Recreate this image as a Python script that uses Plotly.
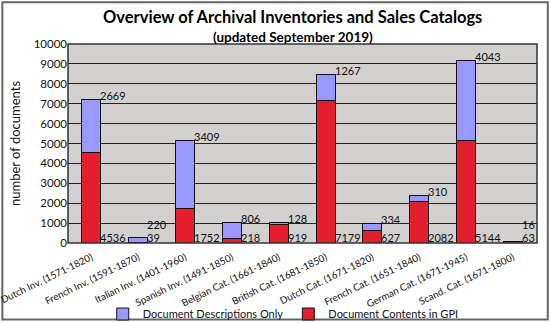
import plotly.graph_objects as go

categories = ["Dutch Inv. (1571-1820)", "French Inv. (1591-1870)", "Italian Inv. (1401-1960)",
              "Spanish Inv. (1491-1850)", "Belgian Cat. (1661-1840)", "British Cat. (1681-1850)",
              "Dutch Cat. (1671-1820)", "French Cat. (1651-1840)", "German Cat. (1671-1945)",
              "Scand. Cat. (1671-1800)"]
contents_gpi = [4536, 39, 1752, 218, 919, 7179, 627, 2082, 5144, 63]
descriptions_only = [2669, 220, 3409, 806, 128, 1267, 334, 310, 4043, 16]
y_ticks = [0, 1000, 2000, 3000, 4000, 5000, 6000, 7000, 8000, 9000, 10000]
y_tick_labels = [str(v) for v in y_ticks]

FONT = "Lato"
RED = "#E31E2D"
BLUE = "#9999FF"

fig = go.Figure()
fig.add_trace(go.Bar(name="Document Contents in GPI", x=categories, y=contents_gpi,
                     marker=dict(color=RED, line=dict(color="#111111", width=1))))
fig.add_trace(go.Bar(name="Document Descriptions Only", x=categories, y=descriptions_only,
                     marker=dict(color=BLUE, line=dict(color="#111111", width=1))))

annotations = []
for c, r, b in zip(categories, contents_gpi, descriptions_only):
    total = r + b
    annotations.append(dict(x=c, y=0, text=str(r), showarrow=False, xanchor="left",
                            yanchor="middle", xshift=7, yshift=6,
                            font=dict(family=FONT, size=11, color="#111")))
    annotations.append(dict(x=c, y=max(total, 750), text=str(b), showarrow=False, xanchor="left",
                            yanchor="middle", xshift=7, yshift=4,
                            font=dict(family=FONT, size=11, color="#111")))

annotations.append(dict(x=0.479, y=1.0, xref="paper", yref="paper", xanchor="center", yanchor="middle",
                        text="<b>Overview of Archival Inventories and Sales Catalogs</b>",
                        showarrow=False, yshift=27,
                        font=dict(family=FONT, size=16.5, color="#000")))
annotations.append(dict(x=0.479, y=1.0, xref="paper", yref="paper", xanchor="center", yanchor="middle",
                        text="<b>(updated September 2019)</b>",
                        showarrow=False, yshift=7,
                        font=dict(family=FONT, size=13.5, color="#000")))

fig.update_layout(
    barmode="stack",
    bargap=0.595,
    width=550, height=323,
    margin=dict(l=68, r=13, t=44, b=80, autoexpand=False),
    paper_bgcolor="white",
    plot_bgcolor="#D3D0D0",
    font=dict(family=FONT, size=11, color="#111"),
    showlegend=True,
    legend=dict(orientation="h", x=0.515, xanchor="center", xref="container",
                y=9 / 323, yanchor="middle", yref="container",
                traceorder="reversed", font=dict(family=FONT, size=11, color="#111"),
                itemwidth=30, bgcolor="rgba(0,0,0,0)"),
    annotations=annotations,
    shapes=[dict(type="rect", xref="paper", yref="paper", x0=0, x1=1, y0=0, y1=1,
                 line=dict(color="#333", width=1.5)),
            dict(type="rect", xref="paper", yref="paper", x0=-0.14, x1=1.023, y0=-0.385, y1=1.21,
                 line=dict(color="#666", width=2), layer="below")],
)
fig.update_xaxes(tickangle=-26, tickfont=dict(family=FONT, size=9.8), showline=False,
                 ticks="", showgrid=False, automargin=False, ticklabelstandoff=6)
fig.update_yaxes(range=[0, 10000], tickvals=y_ticks, ticktext=y_tick_labels, showgrid=True,
                 gridcolor="#222", gridwidth=1.3, automargin=False,
                 tickfont=dict(family=FONT, size=11.5), zeroline=False,
                 title=dict(text="number of documents", font=dict(family=FONT, size=13), standoff=10))

fig.write_html("out.html")
